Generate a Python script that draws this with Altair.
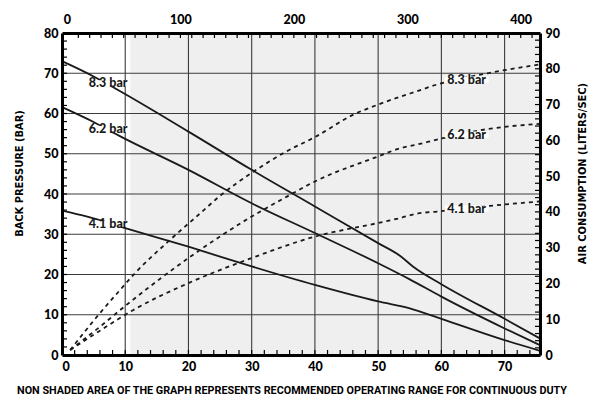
import altair as alt
import pandas as pd

# ---------------- data ----------------
# Back pressure curves (left axis, bar) vs bottom axis
bp_83_x = [0, 5, 9, 20, 30, 40, 50, 53.5, 55.5, 60, 70, 75.5]
bp_83_y = [73.0, 69.2, 65.7, 55.5, 46.0, 36.9, 27.8, 24.6, 22.0, 17.6, 9.0, 4.2]
bp_62_x = [0, 5, 9, 20, 30, 40, 50, 55, 60, 70, 75.5]
bp_62_y = [61.6, 57.9, 54.5, 46.0, 37.7, 30.3, 22.8, 18.8, 14.5, 6.6, 2.5]
bp_41_x = [0, 4, 10, 20, 30, 40, 50, 55, 60, 70, 75.5]
bp_41_y = [35.9, 34.4, 31.5, 26.9, 22.0, 17.4, 13.3, 11.6, 9.0, 3.7, 1.1]

# Air consumption curves (right axis, liters/sec) vs bottom axis
ac_83_x = [1.3, 6, 9.2, 11.3, 17.1, 21.8, 25, 30, 35.5, 40, 46.1, 50, 53.5, 56.1, 59.3, 67.5, 75.5]
ac_83_y = [1.4, 11.7, 18.2, 22.4, 32.2, 39.5, 44.5, 50.9, 56.9, 60.9, 67.2, 70.0, 72.2, 73.7, 75.6, 78.8, 81.2]
ac_62_x = [1.3, 6, 10.2, 20, 30, 35.5, 40, 50, 53.5, 56.1, 59.3, 67.5, 75.5]
ac_62_y = [1.4, 7.9, 14.0, 27.1, 38.7, 44.2, 48.5, 55.5, 57.8, 58.8, 60.2, 63.2, 64.6]
ac_41_x = [1.3, 6, 11.3, 20, 30, 40, 50, 53.5, 56.1, 59.3, 67.7, 75.5]
ac_41_y = [1.4, 6.8, 12.6, 20.1, 27.1, 33.1, 36.9, 38.3, 39.5, 40.1, 41.7, 42.9]

series_names = ["8.3 bar", "6.2 bar", "4.1 bar"]

# curve labels
left_lab_x = [7.3, 7.3, 7.3]
left_lab_y = [67.5, 56.2, 32.6]
right_lab_x = [64.0, 64.0, 64.0]
right_lab_y = [77.0, 61.6, 40.9]

# axes
x_min, x_max = 0, 75.6
y_left_max = 80
y_right_max = 90
top_min, top_max = -4.4, 417
shade_start = 10.8

bottom_labels = [0, 10, 20, 30, 40, 50, 60, 70]
left_labels = [0, 10, 20, 30, 40, 50, 60, 70, 80]
right_labels = [0, 10, 20, 30, 40, 50, 60, 70, 80, 90]
top_labels = [0, 100, 200, 300, 400]

x_grid = [10, 20, 30, 40, 50, 60, 70]
y_grid = [10, 20, 30, 40, 50, 60, 70]

bottom_minor = list(range(2, 76, 2))
left_minor = list(range(2, 80, 2))
right_minor = list(range(2, 90, 2))
top_minor = list(range(10, 420, 10))

caption = ("NON SHADED AREA OF THE GRAPH REPRESENTS RECOMMENDED OPERATING "
           "RANGE FOR CONTINUOUS DUTY")

# ---------------- tables ----------------
solid = pd.concat([
    pd.DataFrame({"x": bp_83_x, "y": bp_83_y, "s": series_names[0]}),
    pd.DataFrame({"x": bp_62_x, "y": bp_62_y, "s": series_names[1]}),
    pd.DataFrame({"x": bp_41_x, "y": bp_41_y, "s": series_names[2]}),
])
dashed = pd.concat([
    pd.DataFrame({"x": ac_83_x, "y": ac_83_y, "s": series_names[0]}),
    pd.DataFrame({"x": ac_62_x, "y": ac_62_y, "s": series_names[1]}),
    pd.DataFrame({"x": ac_41_x, "y": ac_41_y, "s": series_names[2]}),
])
left_lab = pd.DataFrame({"x": left_lab_x, "y": left_lab_y, "t": series_names})
right_lab = pd.DataFrame({"x": right_lab_x, "y": right_lab_y, "t": series_names})

W, H = 478, 322
INK = "#1a1a1a"
GRID = "#3c3c3c"
LABEL_FONT = "Lato"
NARROW = "Liberation Sans Narrow, Arial Narrow, DejaVu Sans Condensed"
CAPTION_FONT = "Roboto"
BOX = "M-1,-0.14L1,-0.14L1,0.14L-1,0.14Z"

xb = alt.Scale(domain=[x_min, x_max], nice=False, zero=False)
yl = alt.Scale(domain=[0, y_left_max], nice=False)
yr = alt.Scale(domain=[0, y_right_max], nice=False)
xt = alt.Scale(domain=[top_min, top_max], nice=False, zero=False)

axis_common = dict(ticks=False, grid=False, domainColor="black", domainWidth=3,
                   labelFont=LABEL_FONT, labelFontWeight=900, labelFontSize=12.5,
                   labelColor="black", labelOverlap=False, zindex=1)

bottom_axis = alt.Axis(values=bottom_labels, title=None, labelPadding=5,
                       **axis_common)
left_axis = alt.Axis(values=left_labels, title="BACK PRESSURE  (BAR)",
                     labelPadding=4, titleFont=NARROW, titleFontWeight="bold",
                     titleFontSize=11, titleColor="black", titleAngle=270,
                     titleX=-43, titleY=140, titleAlign="center",
                     titleBaseline="middle", **axis_common)
right_axis = alt.Axis(orient="right", values=right_labels,
                      title="AIR CONSUMPTION  (LITERS/SEC)", labelPadding=5,
                      titleFont=NARROW, titleFontWeight="bold",
                      titleFontSize=11, titleColor="black", titleAngle=270,
                      titleX=42, titleY=140, titleAlign="center",
                      titleBaseline="middle", **axis_common)
top_axis = alt.Axis(orient="top", values=top_labels, title=None,
                    labelPadding=7, **axis_common)


def XB(f="x:Q"):
    return alt.X(f, scale=xb, axis=bottom_axis)


def YL(f="y:Q"):
    return alt.Y(f, scale=yl, axis=left_axis)


def YR(f="y:Q"):
    return alt.Y(f, scale=yr, axis=right_axis)


# ---------------- layer A: bottom x / left y ----------------
shade = alt.Chart(pd.DataFrame({"x": [shade_start], "x2": [x_max],
                                "y": [0], "y2": [y_left_max]})).mark_rect(
    color="#efefef").encode(x=XB(), x2="x2:Q", y=YL(), y2="y2:Q")

vgrid = alt.Chart(pd.DataFrame({"x": x_grid})).mark_rule(
    color=GRID, strokeWidth=1.1).encode(
    x=XB(), y=alt.datum(0), y2=alt.datum(y_left_max))
hgrid = alt.Chart(pd.DataFrame({"y": y_grid})).mark_rule(
    color=GRID, strokeWidth=1.1).encode(
    y=YL(), x=alt.datum(x_min), x2=alt.datum(x_max))

left_ticks = alt.Chart(pd.DataFrame({"y": left_minor})).mark_rule(
    color="black", strokeWidth=1.2).encode(
    y=YL(), x=alt.value(0), x2=alt.value(5))
bottom_ticks = alt.Chart(pd.DataFrame({"x": bottom_minor})).mark_rule(
    color="black", strokeWidth=1.2).encode(
    x=XB(), y=alt.value(H), y2=alt.value(H - 5))

solid_lines = alt.Chart(solid).mark_line(
    color=INK, strokeWidth=1.8, interpolate="monotone").encode(
    x=XB(), y=YL(), detail="s:N")

left_box = alt.Chart(left_lab).mark_point(
    shape=BOX, filled=True, color="white", opacity=1, size=44 * 44,
    strokeWidth=0).encode(x=XB(), y=YL())
left_text = alt.Chart(left_lab).mark_text(
    font=LABEL_FONT, fontWeight=900, fontSize=12.5, color=INK,
    align="center", baseline="middle").encode(x=XB(), y=YL(), text="t:N")

layer_a = alt.layer(shade, vgrid, hgrid, left_ticks, bottom_ticks,
                    solid_lines, left_box, left_text)

# ---------------- layer B: right y ----------------
XN = lambda: alt.X("x:Q", scale=xb, axis=None)

dashed_lines = alt.Chart(dashed).mark_line(
    color=INK, strokeWidth=1.8, strokeDash=[4, 4], interpolate="monotone").encode(
    x=XN(), y=YR(), detail="s:N")
right_ticks = alt.Chart(pd.DataFrame({"y": right_minor})).mark_rule(
    color="black", strokeWidth=1.2).encode(
    y=YR(), x=alt.value(W), x2=alt.value(W - 5))
right_box = alt.Chart(right_lab).mark_point(
    shape=BOX, filled=True, color="white", opacity=1, size=44 * 44,
    strokeWidth=0).encode(x=XN(), y=YR())
right_text = alt.Chart(right_lab).mark_text(
    font=LABEL_FONT, fontWeight=900, fontSize=12.5, color=INK,
    align="center", baseline="middle").encode(x=XN(), y=YR(), text="t:N")

layer_b = alt.layer(dashed_lines, right_ticks, right_box, right_text)

# ---------------- layer C: top x ----------------
layer_c = alt.Chart(pd.DataFrame({"x": top_minor})).mark_rule(
    color="black", strokeWidth=1.2).encode(
    x=alt.X("x:Q", scale=xt, axis=top_axis),
    y=alt.value(0),
    y2=alt.value(5),
)

chart = alt.layer(layer_a, layer_b, layer_c).resolve_scale(
    x="independent", y="independent").properties(
    width=W, height=H,
    padding={"left": 54, "top": 25, "right": 54, "bottom": 41},
    autosize=alt.AutoSizeParams(type="none"),
    title=alt.TitleParams(caption, orient="bottom", anchor="middle", frame="group",
                          offset=12, baseline="top", dx=-9, font=CAPTION_FONT,
                          fontWeight="bold", fontSize=10.8, color="black"),
).configure_view(strokeWidth=0)

chart.save("out.html", embed_options={"renderer": "svg", "actions": False})
